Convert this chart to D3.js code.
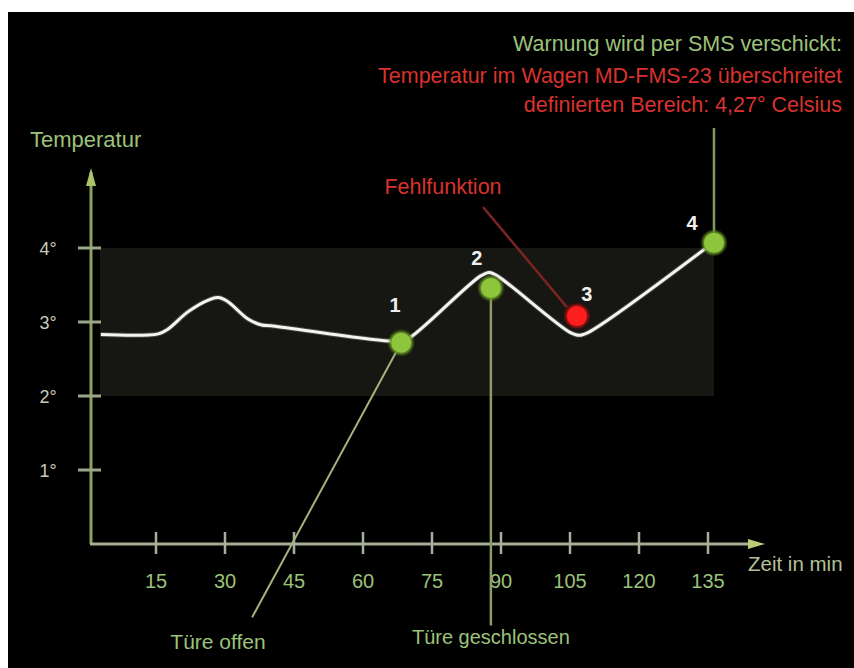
<!DOCTYPE html>
<html>
<head>
<meta charset="utf-8">
<script src="https://cdn.jsdelivr.net/npm/d3@7"></script>
<style>
  html, body { margin: 0; padding: 0; background: #fff; }
  svg { display: block; font-family: "Liberation Sans", Arial, sans-serif; }
</style>
</head>
<body>
<svg id="chart" width="854" height="668"></svg>
<script>
// temperature curve (minutes, degrees)
var curveTimes = [3, 15.5, 17.5, 22, 26.5, 28.5, 30.5, 35, 38, 40, 68, 70, 85.5, 87.5, 89.5, 105, 107, 109, 136.3];
var curveTemps = [2.83, 2.84, 2.9, 3.14, 3.3, 3.33, 3.28, 3.04, 2.96, 2.95, 2.74, 2.78, 3.62, 3.67, 3.61, 2.86, 2.82, 2.86, 4.08];

var timeTicks = [15, 30, 45, 60, 75, 90, 105, 120, 135];
var tempTicks = [1, 2, 3, 4];

// numbered events
var eventNames = ["1", "2", "3", "4"];
var eventTimes = [68.3, 87.8, 106.5, 136.3];
var eventTemps = [2.72, 3.46, 3.08, 4.07];
var eventFail = [false, false, true, false];

// allowed range
var bandRange = [2, 4];
var bandTimes = [2.8, 136.3];

var warnLines = [
    "Warnung wird per SMS verschickt:",
    "Temperatur im Wagen MD-FMS-23 überschreitet",
    "definierten Bereich: 4,27° Celsius"
];

var svgW = 854,
    svgH = 668;

var x = d3.scaleLinear().domain([0, 135]).range([87, 708]);
var y = d3.scaleLinear().domain([0, 4]).range([544, 248]);

var svg = d3.select('#chart');

var green = '#9cc27a',
    red = '#d8322e',
    axisGreen = '#8da25a';

svg.append('rect')
    .attr('x', 8).attr('y', 12)
    .attr('width', svgW - 8).attr('height', svgH - 12)
    .attr('fill', '#000');

// shaded band
svg.append('rect')
    .attr('x', x(bandTimes[0]))
    .attr('y', y(bandRange[1]))
    .attr('width', x(bandTimes[1]) - x(bandTimes[0]))
    .attr('height', y(bandRange[0]) - y(bandRange[1]))
    .attr('fill', '#161612');

var defs = svg.append('defs');
var glow = defs.append('filter').attr('id', 'glow')
    .attr('x', '-50%').attr('y', '-50%').attr('width', '200%').attr('height', '200%');
glow.append('feGaussianBlur').attr('stdDeviation', 1.2);

// y axis
var x0 = 91;
svg.append('line')
    .attr('x1', x0).attr('x2', x0)
    .attr('y1', 172).attr('y2', y(0))
    .attr('stroke', axisGreen).attr('stroke-width', 3);
svg.append('path')
    .attr('d', 'M' + (x0 - 5) + ',186 L' + x0 + ',168 L' + (x0 + 5) + ',186 Z')
    .attr('fill', '#a9c46a');

svg.selectAll('.ytick')
    .data(tempTicks)
    .enter().append('line')
    .attr('x1', 78).attr('x2', 101)
    .attr('y1', function (d) { return y(d); })
    .attr('y2', function (d) { return y(d); })
    .attr('stroke', '#9aa88a').attr('stroke-width', 3);

svg.selectAll('.ylabel')
    .data(tempTicks)
    .enter().append('text')
    .attr('x', 48)
    .attr('y', function (d) { return y(d) + 7; })
    .attr('text-anchor', 'middle')
    .attr('font-size', 18)
    .attr('fill', '#c8ccb8')
    .text(function (d) { return d + '°'; });

svg.append('text')
    .attr('x', 30).attr('y', 147)
    .attr('font-size', 22)
    .attr('fill', green)
    .text('Temperatur');

// x axis
svg.append('line')
    .attr('x1', x0 - 1).attr('x2', 752)
    .attr('y1', y(0)).attr('y2', y(0))
    .attr('stroke', '#a3ae94').attr('stroke-width', 3);
svg.append('path')
    .attr('d', 'M748,' + (y(0) - 5) + ' L765,' + y(0) + ' L748,' + (y(0) + 5) + ' Z')
    .attr('fill', '#b8cc74');

svg.selectAll('.xtick')
    .data(timeTicks)
    .enter().append('line')
    .attr('x1', function (d) { return x(d); })
    .attr('x2', function (d) { return x(d); })
    .attr('y1', 532).attr('y2', 554)
    .attr('stroke', '#a8b09c').attr('stroke-width', 2.5);

svg.selectAll('.xlabel')
    .data(timeTicks)
    .enter().append('text')
    .attr('x', function (d) { return x(d); })
    .attr('y', 588)
    .attr('text-anchor', 'middle')
    .attr('font-size', 20)
    .attr('fill', green)
    .text(function (d) { return d; });

svg.append('text')
    .attr('x', 748).attr('y', 571)
    .attr('font-size', 20.5)
    .attr('fill', '#b4c09a')
    .text('Zeit in min');

// leader lines
function evX(i) { return x(eventTimes[i]); }
function evY(i) { return y(eventTemps[i]); }

svg.append('line')
    .attr('x1', evX(0)).attr('y1', evY(0))
    .attr('x2', x(35.9)).attr('y2', y(-0.99))
    .attr('stroke', '#a4b27c').attr('stroke-width', 2);
svg.append('line')
    .attr('x1', evX(1)).attr('y1', evY(1))
    .attr('x2', evX(1)).attr('y2', y(-1.1))
    .attr('stroke', '#8a9c68').attr('stroke-width', 2.5);
svg.append('line')
    .attr('x1', evX(3)).attr('y1', evY(3))
    .attr('x2', evX(3)).attr('y2', 128)
    .attr('stroke', '#7f9a5c').attr('stroke-width', 2.5);
svg.append('line')
    .attr('x1', 483).attr('y1', 207)
    .attr('x2', evX(2) - 10).attr('y2', evY(2) - 9)
    .attr('stroke', '#7a2424').attr('stroke-width', 2.5);

// temperature curve
var curveData = curveTimes.map(function (t, i) { return [t, curveTemps[i]]; });
var line = d3.line()
    .x(function (d) { return x(d[0]); })
    .y(function (d) { return y(d[1]); })
    .curve(d3.curveCatmullRom.alpha(0.5));

svg.append('path')
    .datum(curveData)
    .attr('d', line)
    .attr('fill', 'none')
    .attr('stroke', '#8a8a86')
    .attr('stroke-width', 5)
    .attr('opacity', 0.4);
svg.append('path')
    .datum(curveData)
    .attr('d', line)
    .attr('fill', 'none')
    .attr('stroke', '#f4f4f0')
    .attr('stroke-width', 3);

// event markers
var evData = eventNames.map(function (n, i) {
    return { name: n, t: eventTimes[i], v: eventTemps[i], fail: eventFail[i] };
});

svg.selectAll('.halo')
    .data(evData)
    .enter().append('circle')
    .attr('cx', function (d) { return x(d.t); })
    .attr('cy', function (d) { return y(d.v); })
    .attr('r', 12)
    .attr('fill', function (d) { return d.fail ? '#a01010' : '#5e8a22'; })
    .attr('filter', 'url(#glow)');

svg.selectAll('.dot')
    .data(evData)
    .enter().append('circle')
    .attr('cx', function (d) { return x(d.t); })
    .attr('cy', function (d) { return y(d.v); })
    .attr('r', 10)
    .attr('fill', function (d) { return d.fail ? '#ff1e1e' : '#8dc63c'; });

var labelDx = [-6, -14, 10, -22];
var labelDy = [-31, -23, -15, -13];
svg.selectAll('.evlabel')
    .data(evData)
    .enter().append('text')
    .attr('x', function (d, i) { return x(d.t) + labelDx[i]; })
    .attr('y', function (d, i) { return y(d.v) + labelDy[i]; })
    .attr('text-anchor', 'middle')
    .attr('font-size', 20)
    .attr('font-weight', 'bold')
    .attr('fill', '#f0f0f0')
    .text(function (d) { return d.name; });

// annotations
svg.append('text')
    .attr('x', 443).attr('y', 194)
    .attr('text-anchor', 'middle')
    .attr('font-size', 21.5)
    .attr('fill', red)
    .text('Fehlfunktion');

svg.append('text')
    .attr('x', 218).attr('y', 649)
    .attr('text-anchor', 'middle')
    .attr('font-size', 21)
    .attr('fill', green)
    .text('Türe offen');

svg.append('text')
    .attr('x', evX(1)).attr('y', 644)
    .attr('text-anchor', 'middle')
    .attr('font-size', 20)
    .attr('fill', green)
    .text('Türe geschlossen');

svg.selectAll('.warn')
    .data(warnLines)
    .enter().append('text')
    .attr('x', 842)
    .attr('y', function (d, i) { return [51, 83, 112][i]; })
    .attr('text-anchor', 'end')
    .attr('font-size', 21.5)
    .attr('fill', function (d, i) { return i === 0 ? green : red; })
    .text(function (d) { return d; });
</script>
</body>
</html>
